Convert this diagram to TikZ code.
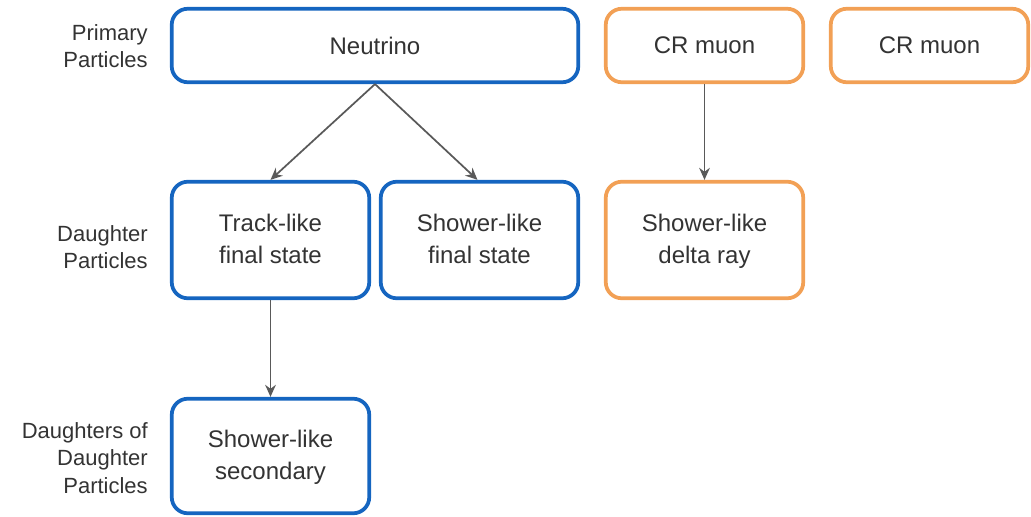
\documentclass[tikz,border=0pt]{standalone}
\usepackage{fontspec}
\setmainfont{Liberation Sans}
\usetikzlibrary{arrows.meta}
\definecolor{nublue}{RGB}{21,101,192}
\definecolor{crorange}{RGB}{242,160,85}
\definecolor{txt}{RGB}{51,51,51}
\definecolor{link}{RGB}{89,89,89}
\tikzset{
  box/.style={draw, line width=2.8pt, rounded corners=12pt, fill=white,
    text=txt, align=center, inner sep=0pt,
    font=\fontsize{18}{24}\selectfont},
  bluebox/.style={box, draw=nublue},
  orangebox/.style={box, draw=crorange},
  wide/.style={minimum width=304.9pt, minimum height=55.1pt},
  short/.style={minimum width=148.1pt, minimum height=55.1pt},
  tall/.style={minimum width=148.1pt, minimum height=87.4pt},
  tallb/.style={minimum width=148.1pt, minimum height=85.9pt},
  rowlabel/.style={anchor=east, align=right, text=txt, inner sep=0pt,
    font=\fontsize{16.5}{20.5}\selectfont},
  link/.style={draw=link, line width=1.3pt, -{Stealth[length=9pt,width=8pt]}}
}
\begin{document}
\begin{tikzpicture}[x=0.75pt, y=-0.75pt]
\useasboundingbox (0,0) rectangle (1031,517);

% row labels
\node[rowlabel] (lprim) at (148,46) {Primary\\Particles};
\node[rowlabel] (ldau) at (148,247) {Daughter\\Particles};
\node[rowlabel] (ldd) at (148,458) {Daughters of\\Daughter\\Particles};

% primary particles
\node[bluebox, wide] (neu) at (375,45.5) {Neutrino};
\node[orangebox, short] (mu1) at (704.5,45.5) {CR muon};
\node[orangebox, short] (mu2) at (929.5,45.5) {CR muon};

% daughters
\node[bluebox, tall, text depth=1.5pt] (trk) at (270.5,240) {Track-like\\final state};
\node[bluebox, tall, text depth=1.5pt] (shw) at (479.5,240) {Shower-like\\final state};
\node[orangebox, tall, text depth=1.5pt] (dray) at (704.5,240) {Shower-like\\delta ray};

% daughters of daughters
\node[bluebox, tallb, text depth=1.5pt] (sec) at (270.5,456) {Shower-like\\secondary};

% connections
\draw[link] (neu.south) -- (trk.north);
\draw[link] (neu.south) -- ([xshift=-1.5pt]shw.north);
\draw[link] (mu1.south) -- (dray.north);
\draw[link] (trk.south) -- (sec.north);
\end{tikzpicture}
\end{document}
